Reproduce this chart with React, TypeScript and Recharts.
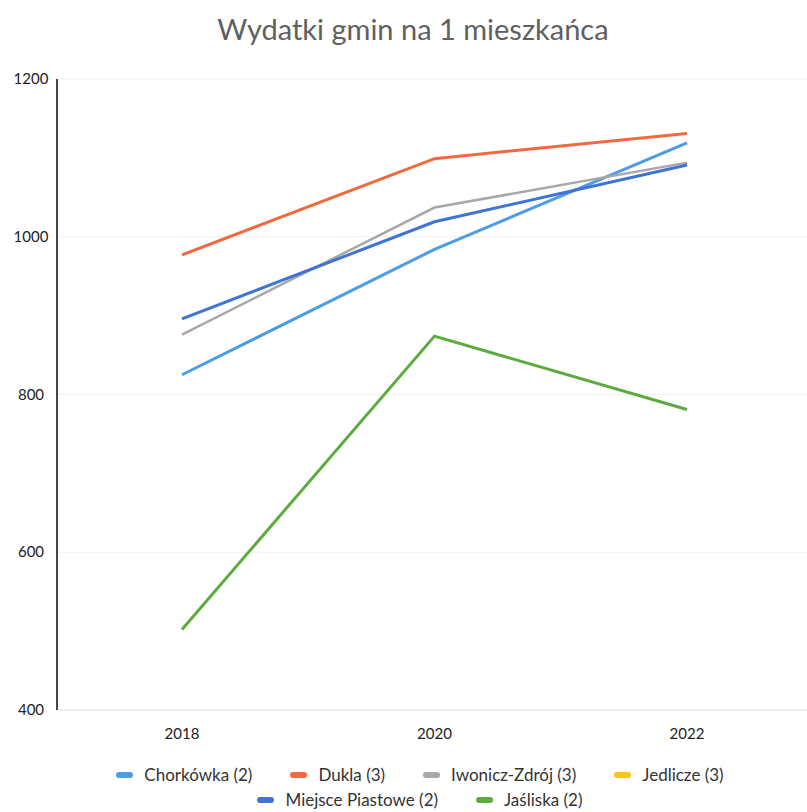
import React from "react";
import { LineChart, Line, XAxis, YAxis, CartesianGrid } from "recharts";

const years = ["2018", "2020", "2022"];
const chorkowka = [825, 984, 1119];
const dukla = [977, 1099, 1131];
const iwonicz = [876, 1037, 1094];
const jedlicze: (number | null)[] = [null, null, null];
const miejsce = [896, 1019, 1091];
const jasliska = [502, 874, 781];
const yTicks = [400, 600, 800, 1000, 1200];

const series = [
  { key: "chorkowka", name: "Chorkówka (2)", color: "#4d9de6", width: 3, values: chorkowka },
  { key: "dukla", name: "Dukla (3)", color: "#f2683f", width: 3, values: dukla },
  { key: "iwonicz", name: "Iwonicz-Zdrój (3)", color: "#a8a8a8", width: 2.5, values: iwonicz },
  { key: "jedlicze", name: "Jedlicze (3)", color: "#fcc419", width: 3, values: jedlicze },
  { key: "miejsce", name: "Miejsce Piastowe (2)", color: "#3f73d6", width: 3, values: miejsce },
  { key: "jasliska", name: "Jaśliska (2)", color: "#5cab3f", width: 3, values: jasliska },
];

const data = years.map((year, i) => {
  const row: Record<string, string | number | null> = { year };
  series.forEach((s) => (row[s.key] = s.values[i]));
  return row;
});

const font = "Lato, 'Open Sans', sans-serif";

function YTick({ y, payload }: any) {
  return (
    <text x={31} y={y} dy={5} textAnchor="middle" fontSize={15} fill="#222" fontFamily={font}>
      {payload.value}
    </text>
  );
}

function ChartLegend() {
  return (
    <div
      style={{
        position: "absolute",
        top: 764,
        left: 70,
        width: 700,
        display: "flex",
        flexWrap: "wrap",
        justifyContent: "center",
        columnGap: 38,
        rowGap: 3,
        fontFamily: font,
        fontSize: 17,
        color: "#333",
      }}
    >
      {series.map((s) => (
        <div key={s.key} style={{ display: "flex", alignItems: "center", lineHeight: "22px" }}>
          <span
            style={{
              display: "inline-block",
              width: 17,
              height: 6,
              borderRadius: 3,
              background: s.color,
              marginRight: 11,
            }}
          />
          {s.name}
        </div>
      ))}
    </div>
  );
}

export default function App() {
  return (
    <div style={{ position: "absolute", left: 0, top: 0, width: 807, height: 812, overflow: "hidden", background: "#fff" }}>
      <div
        style={{
          position: "absolute",
          top: 11,
          left: 0,
          width: 826,
          textAlign: "center",
          fontFamily: font,
          fontSize: 29,
          color: "#606060",
        }}
      >
        Wydatki gmin na 1 mieszkańca
      </div>
      <div style={{ position: "absolute", left: 0, top: 0 }}>
        <LineChart width={812} height={812} data={data} margin={{ top: 79, right: 0, bottom: 72, left: 0 }}>
          <CartesianGrid vertical={false} stroke="#f0f0f0" />
          <XAxis
            dataKey="year"
            tickLine={false}
            axisLine={{ stroke: "#e6e6e6" }}
            tick={{ fontSize: 15, fill: "#222", fontFamily: font }}
            tickMargin={12}
            height={30}
            padding={{ left: 125, right: 125 }}
          />
          <YAxis
            domain={[400, 1200]}
            ticks={yTicks}
            tickLine={false}
            axisLine={{ stroke: "#1a1a1a", strokeWidth: 1.6 }}
            tick={<YTick />}
            width={57}
          />
          {series.map((s) => (
            <Line
              key={s.key}
              type="linear"
              dataKey={s.key}
              name={s.name}
              stroke={s.color}
              strokeWidth={s.width}
              dot={false}
              activeDot={false}
              isAnimationActive={false}
            />
          ))}
        </LineChart>
      </div>
      <ChartLegend />
    </div>
  );
}
